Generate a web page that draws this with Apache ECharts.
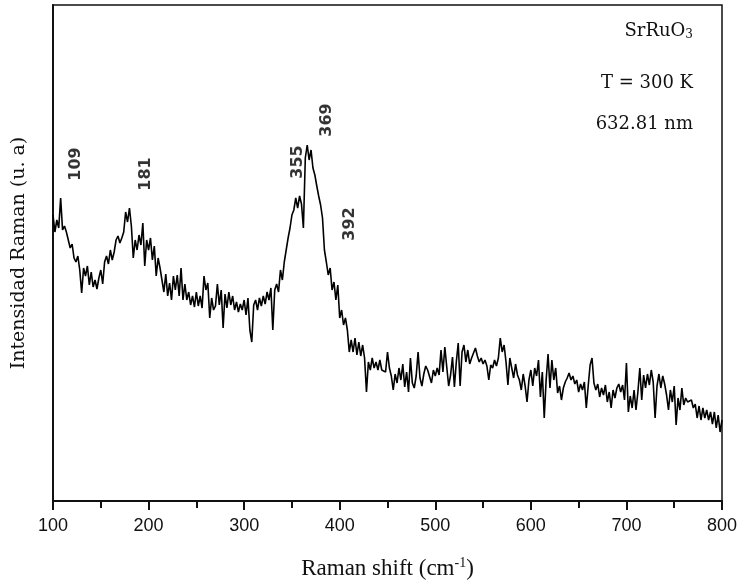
<!DOCTYPE html>
<html>
<head>
<meta charset="utf-8">
<script src="https://cdn.jsdelivr.net/npm/echarts@6/dist/echarts.min.js"></script>
<style>
  html, body { margin: 0; padding: 0; background: #fff; }
  #chart { width: 737px; height: 585px; }
</style>
</head>
<body>
<div id="chart"></div>
<script>
// Raman spectrum of SrRuO3, 300 K, 632.81 nm excitation.
// Intensity (arbitrary units) sampled every 2 cm^-1 from 100 to 800 cm^-1.
const shiftStart = 100;
const shiftStep = 2;
const intensity = [
  286, 269, 281, 273, 303, 271, 275, 269, 261, 253,
  257, 243, 239, 245, 231, 208, 233, 225, 235, 216,
  229, 214, 221, 212, 223, 231, 217, 239, 245, 237,
  251, 241, 249, 261, 265, 258, 263, 269, 289, 279,
  293, 275, 243, 261, 251, 266, 256, 278, 235, 261,
  251, 263, 241, 255, 225, 243, 233, 221, 209, 227,
  205, 218, 201, 225, 211, 226, 205, 233, 201, 217,
  201, 209, 196, 205, 194, 209, 195, 205, 193, 225,
  211, 218, 183, 203, 191, 195, 217, 196, 211, 173,
  207, 193, 209, 196, 205, 191, 199, 189, 197, 191,
  201, 186, 203, 171, 159, 196, 201, 191, 203, 195,
  205, 197, 209, 201, 213, 171, 211, 217, 209, 231,
  221, 239, 251, 263, 273, 286, 291, 303, 293, 305,
  297, 273, 343, 356, 341, 351, 333, 326, 315, 305,
  296, 283, 251, 239, 226, 233, 211, 219, 201, 216,
  183, 191, 176, 183, 171, 149, 161, 149, 163, 146,
  159, 145, 156, 143, 109, 139, 131, 143, 133, 139,
  131, 141, 131, 133, 129, 149, 133, 125, 111, 127,
  118, 133, 121, 137, 114, 129, 109, 143, 118, 113,
  125, 149, 123, 115, 127, 135, 131, 133, 118, 131,
  125, 133, 126, 151, 129, 154, 134, 115, 126, 144,
  114, 139, 158, 115, 149, 156, 139, 151, 137, 143,
  141, 153, 145, 139, 143, 137, 141, 135, 121, 136,
  133, 141, 135, 143, 163, 149, 156, 139, 116, 143,
  133, 123, 137, 126, 121, 111, 127, 115,  99, 121,
  131, 115, 133, 125, 141, 104, 129,  83, 121, 147,
  113, 141, 121, 133, 108, 115, 101, 113, 119, 123,
  128, 121, 125, 117, 121, 109, 117, 111, 119,  93,
  115, 136, 143, 118, 111, 117, 104, 113, 106, 116,
   99, 109,  93, 111, 103, 113, 117, 109, 116, 101,
  138,  89, 105,  93, 111,  91, 109, 133, 101, 126,
  113, 127, 116, 131, 119,  83, 115, 127, 113, 125,
  117, 106,  91, 111,  99, 115,  76, 103,  91, 113,
   96, 103,  99,  97, 101,  93,  97,  83,  95,  81,
   93,  83,  91,  81,  89,  77,  89,  73,  86,  69,
   81
];
// Assigned Raman modes (cm^-1)
const peakShift = [109, 181, 355, 369, 392];

// x-axis tick range
const xMin = 100, xMax = 800, xInterval = 100;

// label placement for each mode: height in intensity units, sideways nudge in px
const peakLabelLevel = [337, 327, 339, 381, 277];
const peakLabelNudge = [14, 15, 1, 17, 18];

const spectrum = intensity.map((v, i) => [shiftStart + shiftStep * i, v]);
// labels are rotated 90°, so the second offset component moves them sideways on screen
const peakMarks = peakShift.map((s, i) => ({
  value: [s, peakLabelLevel[i]],
  label: { offset: [0, peakLabelNudge[i]] }
}));

const chart = echarts.init(document.getElementById('chart'), null, { renderer: 'canvas' });
chart.setOption({
  animation: false,
  backgroundColor: '#ffffff',
  grid: {
    left: 53, right: 15, top: 5, bottom: 84,
    outerBoundsMode: 'none',
    containLabel: false,
    show: true, borderColor: '#111', borderWidth: 1.5, backgroundColor: 'transparent'
  },
  xAxis: {
    type: 'value',
    min: xMin, max: xMax, interval: xInterval,
    axisLine: { lineStyle: { color: '#111', width: 2 } },
    axisTick: { show: true, inside: false, length: 9, lineStyle: { color: '#111', width: 2 } },
    minorTick: { show: true, splitNumber: 2, length: 7, lineStyle: { color: '#111', width: 2 } },
    splitLine: { show: false },
    axisLabel: { color: '#111', fontFamily: 'Liberation Sans', fontSize: 18, margin: 16 },
    name: '{t|Raman shift (cm}{s|-1}{t|)}',
    nameLocation: 'middle',
    nameGap: 55,
    nameTextStyle: {
      rich: {
        t: { fontFamily: 'Liberation Serif', fontSize: 23, color: '#111', lineHeight: 26 },
        s: { fontFamily: 'Liberation Serif', fontSize: 14, color: '#111', verticalAlign: 'top', lineHeight: 14 }
      }
    }
  },
  yAxis: {
    type: 'value',
    min: 0, max: 496,
    axisLine: { show: true, lineStyle: { color: '#111', width: 2 } },
    axisTick: { show: false },
    axisLabel: { show: false },
    splitLine: { show: false },
    name: 'Intensidad Raman (u. a)',
    nameLocation: 'middle',
    nameRotate: 90,
    nameGap: 24,
    nameTextStyle: { fontFamily: 'DejaVu Serif', fontSize: 19, color: '#111' }
  },
  series: [
    {
      type: 'line',
      data: spectrum,
      showSymbol: false,
      symbol: 'none',
      lineStyle: { color: '#000', width: 1.6 },
      z: 3
    },
    {
      type: 'scatter',
      data: peakMarks,
      symbolSize: 0,
      label: {
        show: true,
        position: 'inside',
        rotate: 90,
        formatter: p => String(p.value[0]),
        fontFamily: 'DejaVu Sans',
        fontWeight: 'bold',
        fontSize: 16,
        color: '#000'
      },
      z: 4
    }
  ],
  graphic: [
    {
      type: 'text', right: 44, top: 22,
      style: {
        text: 'SrRuO{sub|3}',
        fontFamily: 'DejaVu Serif', fontSize: 18, fill: '#111',
        rich: { sub: { fontFamily: 'DejaVu Serif', fontSize: 12, verticalAlign: 'bottom', padding: [8, 0, 0, 0] } }
      }
    },
    {
      type: 'text', right: 44, top: 74,
      style: { text: 'T = 300 K', fontFamily: 'DejaVu Serif', fontSize: 18, fill: '#111' }
    },
    {
      type: 'text', right: 44, top: 115,
      style: { text: '632.81 nm', fontFamily: 'DejaVu Serif', fontSize: 18, fill: '#111' }
    }
  ]
});
</script>
</body>
</html>
